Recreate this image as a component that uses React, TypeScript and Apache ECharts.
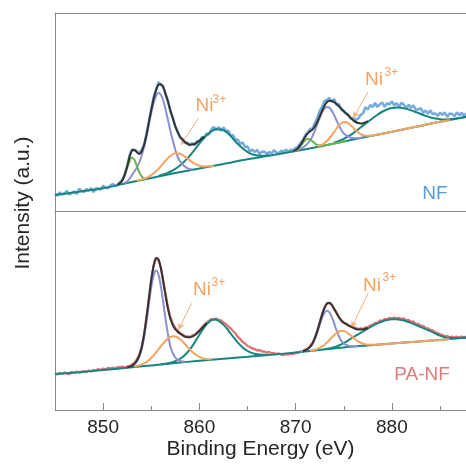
import React, { useEffect, useRef } from "react";
import * as echarts from "echarts";

// ---------- axis ----------
const X_MIN = 845;
const X_MAX = 887.7;
const MAJOR_TICKS = [850, 860, 870, 880];
const MINOR_TICKS = [855, 865, 875, 885];

// ---------- raw spectra (0.25 eV spacing from 845 eV) ----------
const RAW_START = 845;
const RAW_STEP = 0.25;
const nfRaw = [
  17.5, 15.3, 18.65, 16.5, 17.8, 20.1, 16.45, 18.3, 19.6, 16.95, 22.3, 20.15, 19, 21.85, 20.2, 23.05,
  18.9, 22.75, 22.6, 21.45, 25.3, 23.35, 22.4, 25.45, 27, 25,
  26, 29, 31, 37, 45, 56, 61.5, 60.5, 60, 57.5, 61, 66, 77, 89.5, 101, 114, 121, 129, 126, 125,
  116, 110, 99, 93.5, 84, 79.5, 73, 72.5, 68, 68.5, 65.5, 68, 66, 70, 69.5, 74, 73.5,
  77.5, 76.5, 81.8, 84, 81, 84, 80.3, 83.5, 79.5, 80.5, 75.5, 76, 71, 71.5, 67, 68.5, 64, 64.5,
  59.5, 61.5, 59, 61, 57, 59.2, 59.5, 57, 59, 57.6, 60.8, 58.5, 57.7, 60.4, 59.1, 61.3, 59, 61.3, 61.1,
  63, 64.5, 68, 71, 76, 78.5, 82, 82.5, 88, 93, 100, 104, 110, 111, 113, 109, 112, 106, 107, 101,
  100.5, 97, 96, 92, 93, 91, 92.5,
  96, 97.5, 104, 101.5, 106, 104, 108, 104, 106.8, 108.5, 104.2, 107.8, 106.4, 109.5, 105.5, 107.8,
  104.5, 108.2, 106.3, 102.8, 106.2, 103, 105.8, 101, 101.7, 103, 98.2, 100.5, 97.3, 100.7, 96.7, 97.8,
  95, 98.3, 96.1, 98.5, 94, 97.5, 97, 95, 98.6, 95.7, 98.3, 94.9, 98,
];
const paRaw = [
  36.5, 35.5, 37, 36, 37.5, 36.5, 36, 38, 37, 38.5, 37.5, 38, 39, 38, 39.5, 38.5, 40, 39.5, 41, 40,
  41.5, 40.5, 42, 41.5, 42.5, 41.5, 43, 42.5, 43.5, 42.5, 43.5, 44, 45.5, 47, 50.5, 55, 63, 75.5, 92.5, 111,
  130.5, 144, 151.5, 150, 142.5, 129, 115, 102, 92.5, 86, 82, 79, 77, 75.5, 73.5, 73.5, 73, 74.5, 75, 77.5,
  79.5, 82.5, 85, 87.5, 89, 91, 90.5, 91.5, 90, 89.5, 87.5, 86, 83.5, 81.5, 79, 76.5, 73, 71, 68, 66.5,
  64, 63, 61.5, 61, 59.5, 60, 58.5, 58.5, 57.5, 58, 56.5, 57, 56, 56.5, 55.5, 55, 56, 55.5, 56.5, 56,
  57.5, 57, 58.5, 58.5, 60.5, 61, 64, 67, 72.5, 79.5, 88, 96, 102.5, 106.5, 107, 105.5, 101, 97.5, 93, 90,
  87.5, 86.5, 84.5, 84, 82.5, 82, 81, 81.5, 81, 82.5, 82.5, 84.5, 85, 87, 87, 89.5, 89, 91, 90.5, 92,
  91.5, 92.5, 91.5, 92, 91, 91.5, 89.5, 90, 88, 88.5, 86, 86, 84, 84, 82, 81.5, 80, 79.5, 77.5, 77,
  75.5, 75, 73.5, 74, 72.5, 73.5, 72.5, 73.5, 72.5, 73.5, 72.5, 73.5,
];

// ---------- NF fitted curves ----------
const nfBaseline = [
  [845, 16], [847.5, 19.3], [850, 22.8], [852.5, 28], [855, 33], [857.5, 38], [860, 42.5],
  [862.5, 47], [865, 51.7], [867.5, 55.8], [870, 59.9], [872.5, 64.6], [875, 69.6], [877.5, 74.45],
  [880, 79.2], [882.5, 84.2], [885, 89.2], [887.5, 93.65], [888, 94.5],
];
const nfGreen1 = [26.3, 27.7, 30.6, 35.8, 43.1, 50.2, 53.5, 51.2, 45.1, 38.8, 34.6, 32.7, 32.3]; // from 851.5, 0.25
const nfPurple1 = [
  28, 29.5, 32.5, 36, 39.5, 43.5, 48.5, 55.5, 64, 74.5, 86.5, 98.1, 108.2, 115.2, 118, 116.2, 110.2,
  101.1, 90.5, 79.5, 70, 61, 54, 49.5, 46.45, 44.4, 42.85, 42, 41.7,
]; // from 852.25, 0.25
const nfOrange1 = [30.15, 31.45, 33.2, 35.9, 39.75, 44.85, 50.5, 55.2, 57.7, 57.2, 54.4, 50.65, 47.4, 45.4, 44.6, 44.75, 45.35]; // from 853.5, 0.5
const nfSat1 = [
  35.0, 36.45, 38.3, 40.65, 43.75, 47.65, 52.55, 58.2, 64.3, 70.45, 75.75, 79.65, 81.65, 81.45, 79.4,
  75.0, 69.4, 64.85, 60.75, 57.6, 56.0, 55.3, 55.3, 55.7,
]; // from 855.75, 0.5
const nfFit1 = [
  26.3, 27.7, 30.8, 36.3, 44.6, 54.2, 60.5, 61.2, 58.75, 57.06, 59.55, 65.96, 76, 88.4, 101, 112.3,
  120.95, 126.2, 126.7, 123.35, 116.9, 108.9, 100.1, 92.45, 84.8, 78.55, 74.3, 71.25, 69, 67.25, 66.35,
  66.4, 67, 68.4, 70.3, 72.35, 74.4,
]; // from 851.5, 0.25
const nfGreen2 = [
  59.8, 60.7, 62.3, 64.8, 67.9, 70.7, 72.2, 71.7, 69.7, 67.6, 66, 65.4, 65.4, 65.6, 66.1, 66.6, 67.1,
  67.6, 68.1, 68.6, 69.1, 69.6, 70.1,
]; // from 869.75, 0.25
const nfPurple2 = [
  59.6, 60.2, 61.05, 62.1, 63.45, 65.2, 67.7, 70.65, 74.8, 80.4, 86.6, 92.9, 98.4, 102.4, 104.1, 103.4,
  100.4, 95.9, 90.6, 85.4, 80.8, 77.6, 75.6, 74.1, 73.3, 72.9, 72.8, 72.85, 73.15, 73.5,
]; // from 869.75, 0.25
const nfOrange2 = [
  64.45, 65.3, 66.45, 68, 70, 72.5, 75.6, 79, 82.5, 85.5, 87.8, 88.9, 88.8, 87.5, 85.5, 83, 80.6, 78.45,
  76.95, 75.9, 75.35, 75.15, 75.25, 75.55,
]; // from 872.25, 0.25
const nfOrange2Tail = [[879, 77.3], [880, 79.2], [881, 81.2], [882, 83.2], [883, 85.2], [884, 87.2], [885, 89.2], [886, 91]];
const nfSat2 = [
  68.4, 70.1, 72.2, 74.8, 77.9, 81.75, 85.35, 89.1, 92.8, 96.25, 99.25, 101.5, 102.9, 103.45, 103.15,
  102.1, 100.6, 98.85, 97.05, 95.2, 93.5, 92.4, 91.8, 91.6, 91.8, 92.3, 93, 93.75, 94.55,
]; // from 874, 0.5
const nfFit2 = [
  59.85, 61, 62.95, 66.1, 70.05, 74.2, 77.7, 79.65, 81.4, 84.57, 89.07, 94.7, 100.42, 105.35, 108.72,
  110.2, 110.1, 108.8, 106.9, 104.6, 102.4, 99.5, 97.7, 95.2, 92.9, 90.6, 89, 87.95, 87.55, 87.75, 88.6, 89.8,
]; // from 869.75, 0.25

// ---------- PA-NF fitted curves ----------
const paBaseline = [
  [845, 36], [847.5, 37.8], [850, 40], [852.5, 42.2], [855, 44.6], [857.5, 47], [860, 49.2],
  [862.5, 51.2], [865, 53.2], [867.5, 55.3], [870, 57.5], [872.5, 60], [875, 62.6], [877.5, 64.6],
  [880, 66.5], [882.5, 68.3], [885, 70.1], [887.5, 72.2], [888, 72.6],
];
const paPurple1 = [
  42.5, 43.25, 44.3, 45.8, 48.55, 53.2, 60.45, 72.4, 87.9, 105.65, 122.6, 134.95, 139.6, 135.45, 123.55,
  107.1, 89.85, 74.8, 63.3, 56.55, 52.4, 50.1, 49.05, 48.45, 48.2,
]; // from 852.5, 0.25
const paOrange1 = [43.35, 44.6, 46.6, 49.85, 54.6, 60.55, 66.7, 71.6, 73.75, 72.5, 68.55, 63.3, 58.3, 54.5, 52.1, 51, 50.65]; // from 853.25, 0.5
const paSat1 = [
  45.65, 46.35, 47.3, 48.85, 51.25, 55, 60.3, 67.35, 75.2, 82.6, 88.1, 90.4, 89.2, 85.4, 79.7, 73.4,
  67.4, 62.5, 59, 56.85, 55.7, 55.25, 55.25,
]; // from 856, 0.5
const paFit1 = [
  42.5, 43.25, 44.3, 46.25, 49.3, 54.4, 62.25, 75.1, 91.8, 111.15, 130, 144.7, 152, 150.65, 141.75,
  128.2, 113.55, 100.6, 90.7, 84.8, 80.85, 78.2, 76.25, 74.65, 73.4, 72.7, 72.7, 73.4, 74.75, 76.7,
  79.1, 81.7, 84.4, 86.9,
]; // from 852.5, 0.25
const paPurple2 = [
  58.3, 58.85, 59.7, 61.05, 63, 66.05, 71.1, 77.65, 85, 92.05, 97.2, 99.3, 97.75, 93.1, 86.55, 79.75,
  73.7, 69.15, 66.6, 65.1, 64.2, 63.8, 63.7, 63.75, 63.8,
]; // from 870.5, 0.25
const paOrange2 = [
  59.2, 59.65, 60.25, 61.05, 62.1, 63.55, 65.3, 67.5, 69.95, 72.5, 74.85, 77.05, 78.5, 79.15, 79, 78,
  76.3, 74.4, 72.3, 70.3, 68.6, 67.3, 66.3, 65.7, 65.35, 65.2, 65.2,
]; // from 871.5, 0.25
const paOrange2Tail = [[879, 65.75], [880, 66.5], [881, 67.2], [882, 67.95], [883, 68.65], [884, 69.4], [885, 70.1], [886, 70.95]];
const paSat2 = [
  60.7, 61.55, 62.75, 64.5, 66.9, 69.8, 72.9, 75.7, 78.5, 81.4, 84.2, 86.55, 88.55, 89.95, 90.7, 90.7,
  90, 88.8, 87.15, 85.1, 82.95, 80.9, 78.9, 76.55, 74.4, 72.9, 72.15, 71.85, 72, 72.2, 72.6,
]; // from 873, 0.5
const paFit2 = [
  58.85, 59.7, 61.05, 63.2, 66.45, 71.85, 78.95, 87.1, 95.35, 102.2, 106.35, 107.15, 105.15, 101.05,
  96.75, 92.5, 89.3, 87.3, 85.85, 84.3, 83.15, 82.1, 81, 80.5, 80.4, 80.6, 81.25, 82.15,
]; // from 870.75, 0.25

// Ni3+ pointer lines: [fromE, fromI, toE, toI]
const nfArrows = [[859.88, 92.7, 858.1, 66], [877.53, 119.3, 875.98, 92.7]];
const paArrows = [[859.2, 106.7, 857.8, 80], [877.53, 116.7, 875.8, 82]];

const C = {
  nf: "#74aadd",
  pa: "#e27373",
  teal: "#17857f",
  purple: "#8d8fd3",
  green: "#6cb24f",
  orange: "#f4a462",
  fit: "#333333",
  annot: "#f2b07c",
  axis: "#8a8a8a",
  text: "#262626",
};
const FONT = "'Liberation Sans', Arial, sans-serif";

function run(start: number, step: number, vals: number[]) {
  return vals.map((v, i) => [start + i * step, v]);
}

function line(name: string, data: any[], color: string, xi: number, yi: number, z: number, extra: any = {}) {
  return {
    name,
    type: "line",
    data,
    xAxisIndex: xi,
    yAxisIndex: yi,
    showSymbol: false,
    symbol: "none",
    smooth: 0.3,
    z,
    silent: true,
    lineStyle: { color, width: 2 },
    ...extra,
  };
}

function arrowMark(arrows: number[][]) {
  return {
    silent: true,
    symbol: ["none", "arrow"],
    symbolSize: [5, 7],
    lineStyle: { color: C.annot, width: 1, type: "solid" },
    itemStyle: { color: C.annot },
    label: { show: false },
    emphasis: { disabled: true },
    data: arrows.map((a) => [{ coord: [a[0], a[1]] }, { coord: [a[2], a[3]] }]),
  };
}

function niLabel(x: number, y: number, sx: number, sy: number) {
  return [
    { type: "text", x, y, style: { text: "Ni", fill: C.orange, fontSize: 19, fontFamily: FONT, align: "left", verticalAlign: "middle" } },
    { type: "text", x: sx, y: sy, style: { text: "3+", fill: C.orange, fontSize: 12, fontFamily: FONT, align: "left", verticalAlign: "middle" } },
  ];
}

export default function App() {
  const ref = useRef<HTMLDivElement>(null);
  useEffect(() => {
    if (!ref.current) return;
    const chart = echarts.init(ref.current, undefined, { renderer: "svg" });
    const raw = (vals: number[]) => run(RAW_START, RAW_STEP, vals);
    const baseX = {
      type: "value",
      min: X_MIN,
      max: X_MAX,
      axisLine: { show: true, onZero: false, lineStyle: { color: C.axis, width: 1 } },
      axisTick: { show: false },
      axisLabel: { show: false },
      splitLine: { show: false },
    };
    const option: any = {
      animation: false,
      textStyle: { fontFamily: FONT },
      grid: [
        { left: 55, top: 13, right: 0, height: 198 },
        { left: 55, top: 211, right: 0, height: 199 },
      ],
      xAxis: [
        { ...baseX, gridIndex: 0, position: "bottom" },
        { ...baseX, gridIndex: 0, position: "top" },
        {
          ...baseX,
          gridIndex: 1,
          position: "bottom",
          axisTick: { show: true, inside: true, length: 7, customValues: MAJOR_TICKS, lineStyle: { color: C.axis } },
          axisLabel: { show: true, customValues: MAJOR_TICKS, margin: 7, fontSize: 19, color: C.text, fontFamily: FONT },
          name: "Binding Energy (eV)",
          nameLocation: "middle",
          nameGap: 22,
          nameTextStyle: { fontSize: 21, color: C.text, fontFamily: FONT },
        },
        {
          ...baseX,
          gridIndex: 1,
          position: "bottom",
          axisLine: { show: false },
          axisTick: { show: true, inside: true, length: 4, customValues: MINOR_TICKS, lineStyle: { color: C.axis } },
        },
      ],
      yAxis: [
        { type: "value", gridIndex: 0, min: 0, max: 198, axisLine: { show: true, onZero: false, lineStyle: { color: C.axis } }, axisTick: { show: false }, axisLabel: { show: false }, splitLine: { show: false } },
        { type: "value", gridIndex: 1, min: 0, max: 199, axisLine: { show: true, onZero: false, lineStyle: { color: C.axis } }, axisTick: { show: false }, axisLabel: { show: false }, splitLine: { show: false } },
      ],
      series: [
        // NF panel
        line("NF raw", raw(nfRaw), C.nf, 0, 0, 1, { smooth: false, lineStyle: { color: C.nf, width: 2.5 } }),
        line("NF bg", nfBaseline, C.teal, 0, 0, 2),
        line("NF sat1", run(855.75, 0.5, nfSat1), C.teal, 0, 0, 3),
        line("NF sat2", run(874, 0.5, nfSat2), C.teal, 0, 0, 3),
        line("NF Ni2+ a", run(852.25, 0.25, nfPurple1), C.purple, 0, 0, 4),
        line("NF Ni2+ b", run(869.75, 0.25, nfPurple2), C.purple, 0, 0, 4),
        line("NF Ni0 a", run(851.5, 0.25, nfGreen1), C.green, 0, 0, 4),
        line("NF Ni0 b", run(869.75, 0.25, nfGreen2), C.green, 0, 0, 4),
        line("NF Ni3+ a", run(853.5, 0.5, nfOrange1), C.orange, 0, 0, 5),
        line("NF Ni3+ b", run(872.25, 0.25, nfOrange2).concat(nfOrange2Tail), C.orange, 0, 0, 5),
        line("NF fit a", run(851.5, 0.25, nfFit1), C.fit, 0, 0, 6, { markLine: arrowMark(nfArrows) }),
        line("NF fit b", run(869.75, 0.25, nfFit2), C.fit, 0, 0, 6),
        // PA-NF panel
        line("PA raw", raw(paRaw), C.pa, 2, 1, 1, { smooth: false, lineStyle: { color: C.pa, width: 2.3 } }),
        line("PA bg", paBaseline, C.teal, 2, 1, 2),
        line("PA sat1", run(856, 0.5, paSat1), C.teal, 2, 1, 3),
        line("PA sat2", run(873, 0.5, paSat2), C.teal, 2, 1, 3),
        line("PA Ni2+ a", run(852.5, 0.25, paPurple1), C.purple, 2, 1, 4),
        line("PA Ni2+ b", run(870.5, 0.25, paPurple2), C.purple, 2, 1, 4),
        line("PA Ni3+ a", run(853.25, 0.5, paOrange1), C.orange, 2, 1, 5),
        line("PA Ni3+ b", run(871.5, 0.25, paOrange2).concat(paOrange2Tail), C.orange, 2, 1, 5),
        line("PA fit a", run(852.5, 0.25, paFit1), C.fit, 2, 1, 6, { markLine: arrowMark(paArrows) }),
        line("PA fit b", run(870.75, 0.25, paFit2), C.fit, 2, 1, 6),
      ],
      graphic: [
        { type: "text", x: 21, y: 203, rotation: Math.PI / 2, style: { text: "Intensity (a.u.)", fill: C.text, fontSize: 21, fontFamily: FONT, align: "center", verticalAlign: "middle" } },
        { type: "text", x: 435, y: 192, style: { text: "NF", fill: "#5b9bd5", fontSize: 19, fontFamily: FONT, align: "center", verticalAlign: "middle" } },
        { type: "text", x: 422, y: 373, style: { text: "PA-NF", fill: "#e07b7b", fontSize: 19, fontFamily: FONT, align: "center", verticalAlign: "middle" } },
        ...niLabel(195.5, 104.5, 212.5, 98.5),
        ...niLabel(365, 78, 384.5, 71.5),
        ...niLabel(193, 288.5, 211.5, 281.5),
        ...niLabel(363, 284, 382.5, 277),
      ],
    };
    chart.setOption(option);
    return () => chart.dispose();
  }, []);
  return <div ref={ref} style={{ position: "fixed", left: 0, top: 0, width: 466, height: 465 }} />;
}
